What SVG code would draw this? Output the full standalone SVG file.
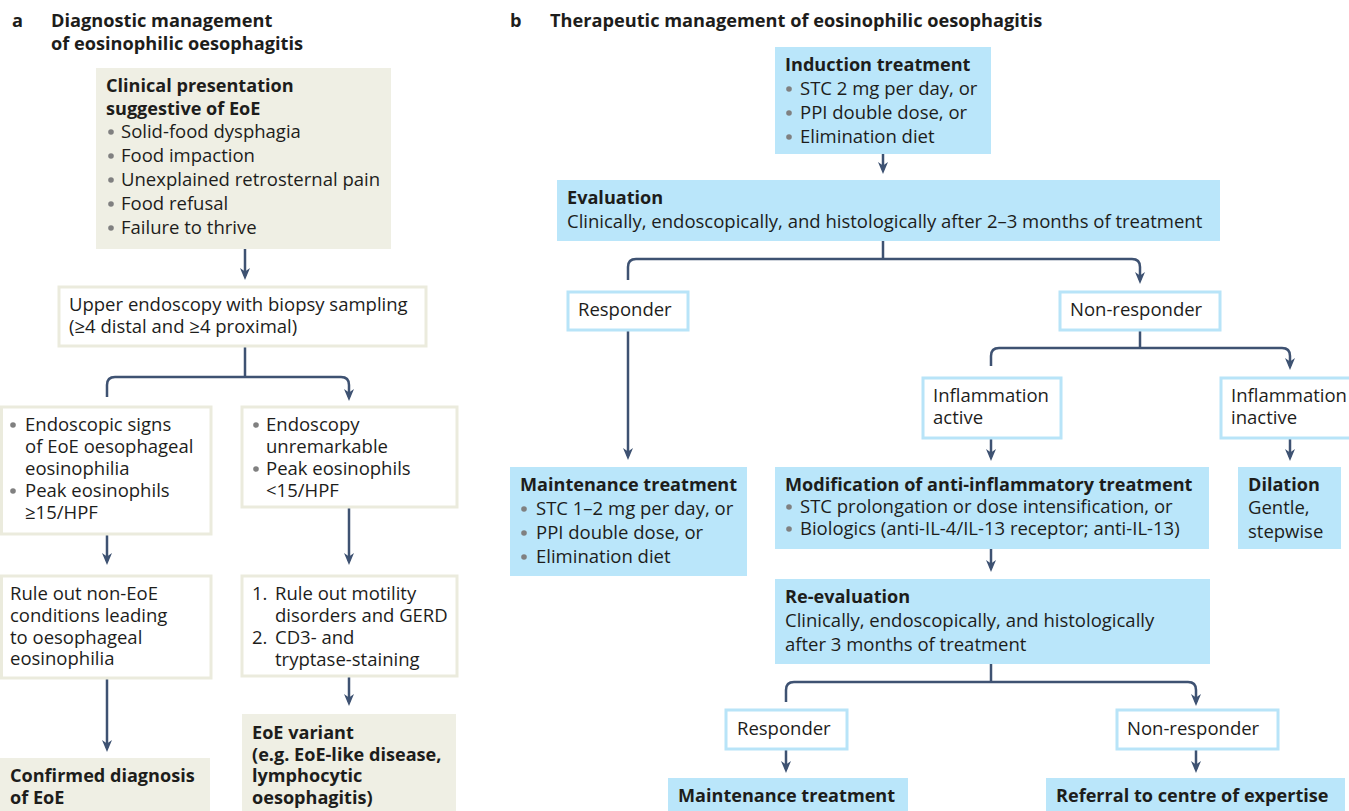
<svg xmlns="http://www.w3.org/2000/svg" width="1349" height="811" viewBox="0 0 1349 811">
<style>
text{font-family:"Open Sans","Noto Sans","Liberation Sans",sans-serif;font-size:18.5px;fill:#1d1d1b}
.b{font-weight:bold;font-size:18.1px}
.h{font-weight:bold;font-size:18.2px}
.beige{fill:#efefe4}
.wa{fill:#ffffff;stroke:#ebebdd;stroke-width:3}
.blue{fill:#bae6fa}
.wb{fill:#ffffff;stroke:#b8e4f8;stroke-width:3}
.dot{fill:#808080}
.c path{fill:none;stroke:#3e5272;stroke-width:2.5;marker-end:url(#ah)}
.c path.n{marker-end:none}
</style>
<defs>
<marker id="ah" viewBox="0 0 12 10" markerWidth="12" markerHeight="10" markerUnits="userSpaceOnUse" refX="8" refY="5" orient="auto">
<path d="M0,0 L12,5 L0,10 L3.5,5 z" fill="#3e5272"/>
</marker>
</defs>

<g id="titles">
<text class="h" x="12" y="27">a</text>
<text class="h" x="51" y="27">Diagnostic management</text>
<text class="h" x="51" y="50">of eosinophilic oesophagitis</text>
<text class="h" x="510" y="27">b</text>
<text class="h" x="550" y="27">Therapeutic management of eosinophilic oesophagitis</text>
</g>

<g class="c" id="connectors">
<path d="M245,249 V276"/>
<path class="n" d="M245,346 V377"/>
<path d="M107,397 V385 Q107,377 115,377 H341 Q349,377 349,385 V397"/>
<path d="M107,534 V561"/>
<path d="M349,507 V561"/>
<path d="M107,678 V748"/>
<path d="M349,676 V702"/>
<path d="M883,154 V170"/>
<path class="n" d="M883,241 V259"/>
<path d="M628,280 V267 Q628,259 636,259 H1132 Q1140,259 1140,267 V280"/>
<path d="M628,330 V456"/>
<path class="n" d="M1140,330 V348"/>
<path d="M991,366 V356 Q991,348 999,348 H1282 Q1290,348 1290,356 V366"/>
<path d="M991,438 V457"/>
<path d="M1290,438 V457"/>
<path d="M991,549 V568"/>
<path class="n" d="M991,664 V682"/>
<path d="M786,702 V690 Q786,682 794,682 H1188 Q1196,682 1196,690 V702"/>
<path d="M786,749 V769"/>
<path d="M1196,749 V769"/>
</g>

<g id="clinical">
<rect class="beige" x="96" y="68" width="295" height="181"/>
<text class="b" x="106" y="92">Clinical presentation</text>
<text class="b" x="106" y="115">suggestive of EoE</text>
<circle class="dot" cx="111" cy="132" r="2.8"/><text x="121" y="138">Solid-food dysphagia</text>
<circle class="dot" cx="111" cy="156" r="2.8"/><text x="121" y="162">Food impaction</text>
<circle class="dot" cx="111" cy="180" r="2.8"/><text x="121" y="186">Unexplained retrosternal pain</text>
<circle class="dot" cx="111" cy="204" r="2.8"/><text x="121" y="210">Food refusal</text>
<circle class="dot" cx="111" cy="228" r="2.8"/><text x="121" y="234">Failure to thrive</text>
</g>

<g id="endoscopy">
<rect class="wa" x="59" y="287" width="367" height="59"/>
<text x="69" y="311">Upper endoscopy with biopsy sampling</text>
<text x="69" y="333">(≥4 distal and ≥4 proximal)</text>
</g>

<g id="signs">
<rect class="wa" x="1.5" y="407" width="209.5" height="127"/>
<circle class="dot" cx="13" cy="425" r="2.8"/><text x="25" y="431">Endoscopic signs</text>
<text x="25" y="453">of EoE oesophageal</text>
<text x="25" y="475">eosinophilia</text>
<circle class="dot" cx="13" cy="491" r="2.8"/><text x="25" y="497">Peak eosinophils</text>
<text x="25" y="519">≥15/HPF</text>
</g>

<g id="unremarkable">
<rect class="wa" x="242" y="407" width="215" height="100"/>
<circle class="dot" cx="256" cy="425" r="2.8"/><text x="266" y="431">Endoscopy</text>
<text x="266" y="453">unremarkable</text>
<circle class="dot" cx="256" cy="469" r="2.8"/><text x="266" y="475">Peak eosinophils</text>
<text x="266" y="497">&lt;15/HPF</text>
</g>

<g id="ruleout">
<rect class="wa" x="1.5" y="576" width="209.5" height="102"/>
<text x="10" y="600">Rule out non-EoE</text>
<text x="10" y="622">conditions leading</text>
<text x="10" y="644">to oesophageal</text>
<text x="10" y="665">eosinophilia</text>
</g>

<g id="motility">
<rect class="wa" x="242" y="576" width="215" height="100"/>
<text x="252" y="600">1.</text><text x="275" y="600">Rule out motility</text>
<text x="275" y="622">disorders and GERD</text>
<text x="252" y="644">2.</text><text x="275" y="644">CD3- and</text>
<text x="275" y="666">tryptase-staining</text>
</g>

<g id="confirmed">
<rect class="beige" x="0" y="758" width="210" height="53"/>
<text class="b" x="10" y="782">Confirmed diagnosis</text>
<text class="b" x="10" y="804">of EoE</text>
</g>

<g id="variant">
<rect class="beige" x="242" y="714" width="214" height="97"/>
<text class="b" x="252" y="739">EoE variant</text>
<text class="b" x="252" y="761">(e.g. EoE-like disease,</text>
<text class="b" x="252" y="782">lymphocytic</text>
<text class="b" x="252" y="804">oesophagitis)</text>
</g>

<g id="induction">
<rect class="blue" x="775" y="47" width="216" height="107"/>
<text class="b" x="785" y="71">Induction treatment</text>
<circle class="dot" cx="789" cy="89" r="2.8"/><text x="800" y="95">STC 2 mg per day, or</text>
<circle class="dot" cx="789" cy="113" r="2.8"/><text x="800" y="119">PPI double dose, or</text>
<circle class="dot" cx="789" cy="137" r="2.8"/><text x="800" y="143">Elimination diet</text>
</g>

<g id="evaluation">
<rect class="blue" x="557" y="180" width="663" height="61"/>
<text class="b" x="567" y="204">Evaluation</text>
<text x="567" y="228">Clinically, endoscopically, and histologically after 2–3 months of treatment</text>
</g>

<g id="responder1">
<rect class="wb" x="568" y="292" width="120" height="38"/>
<text x="578" y="316">Responder</text>
</g>

<g id="nonresponder1">
<rect class="wb" x="1060" y="292" width="160" height="38"/>
<text x="1070" y="316">Non-responder</text>
</g>

<g id="maintenance1">
<rect class="blue" x="510" y="467" width="237" height="109"/>
<text class="b" x="520" y="491">Maintenance treatment</text>
<circle class="dot" cx="524" cy="509" r="2.8"/><text x="536" y="515">STC 1–2 mg per day, or</text>
<circle class="dot" cx="524" cy="533" r="2.8"/><text x="536" y="539">PPI double dose, or</text>
<circle class="dot" cx="524" cy="557" r="2.8"/><text x="536" y="563">Elimination diet</text>
</g>

<g id="active">
<rect class="wb" x="923" y="378" width="138" height="60"/>
<text x="933" y="402">Inflammation</text>
<text x="933" y="424">active</text>
</g>

<g id="inactive">
<rect class="wb" x="1221" y="378" width="140" height="60"/>
<text x="1231" y="402">Inflammation</text>
<text x="1231" y="424">inactive</text>
</g>

<g id="modification">
<rect class="blue" x="775" y="467" width="434" height="82"/>
<text class="b" x="785" y="491">Modification of anti-inflammatory treatment</text>
<circle class="dot" cx="789" cy="507" r="2.8"/><text x="800" y="513">STC prolongation or dose intensification, or</text>
<circle class="dot" cx="789" cy="529" r="2.8"/><text x="800" y="535">Biologics (anti-IL-4/IL-13 receptor; anti-IL-13)</text>
</g>

<g id="dilation">
<rect class="blue" x="1238" y="467" width="103" height="82"/>
<text class="b" x="1248" y="491">Dilation</text>
<text x="1248" y="514">Gentle,</text>
<text x="1248" y="538">stepwise</text>
</g>

<g id="reevaluation">
<rect class="blue" x="775" y="579" width="435" height="85"/>
<text class="b" x="785" y="603">Re-evaluation</text>
<text x="785" y="627">Clinically, endoscopically, and histologically</text>
<text x="785" y="651">after 3 months of treatment</text>
</g>

<g id="responder2">
<rect class="wb" x="726" y="710" width="121" height="39"/>
<text x="737" y="735">Responder</text>
</g>

<g id="nonresponder2">
<rect class="wb" x="1117" y="710" width="161" height="39"/>
<text x="1127" y="735">Non-responder</text>
</g>

<g id="maintenance2">
<rect class="blue" x="668" y="778" width="240" height="33"/>
<text class="b" x="678" y="802">Maintenance treatment</text>
</g>

<g id="referral">
<rect class="blue" x="1046" y="778" width="299" height="33"/>
<text class="b" x="1056" y="802">Referral to centre of expertise</text>
</g>
</svg>
